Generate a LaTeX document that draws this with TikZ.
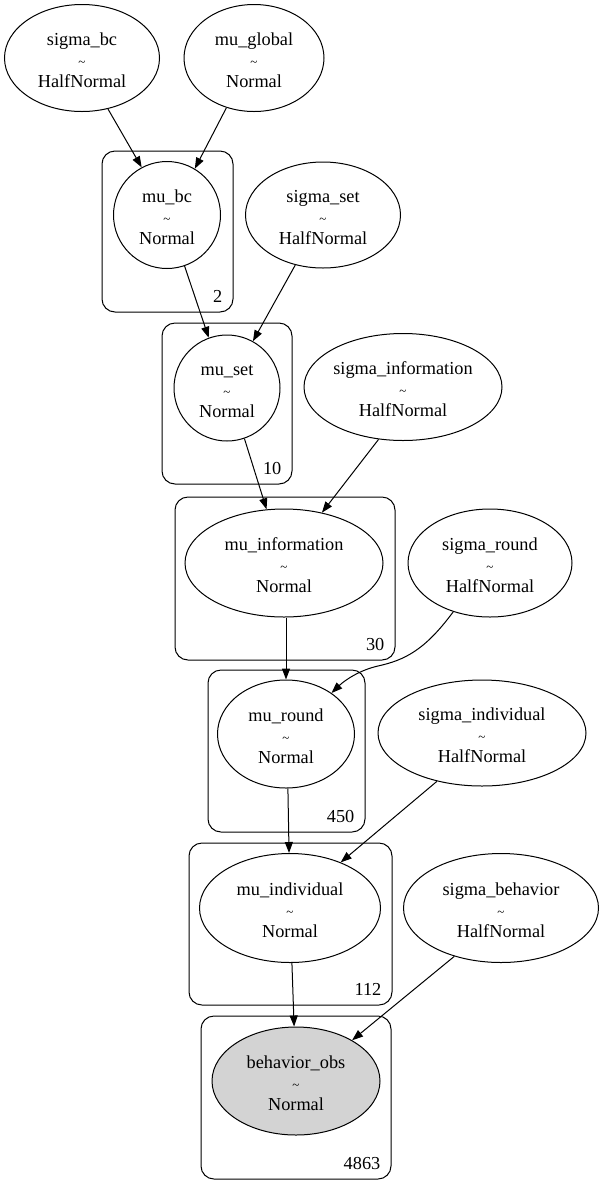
\documentclass[tikz,border=0pt]{standalone}
\usepackage{fontspec}
\setmainfont{Liberation Serif}
\usetikzlibrary{arrows.meta,shapes.geometric}

\definecolor{obsgray}{HTML}{D3D3D3}

\newcommand{\rvtext}[2]{\rule{0pt}{17pt}#1\\[0.8pt]{\fontsize{13}{20.5}\selectfont\textasciitilde}\\[0.8pt]#2}

\begin{document}
\begin{tikzpicture}[x=1pt, y=-1pt, >={Triangle[length=11pt,width=8pt]},
    rv/.style 2 args={draw, ellipse, line width=1pt, inner sep=0pt, align=center,
      minimum width=#1, minimum height=#2,
      font=\fontsize{18.3}{20.5}\selectfont},
    plate/.style 2 args={draw, line width=1pt, rounded corners=13pt, inner sep=0pt,
      minimum width=#1, minimum height=#2},
    platelab/.style={anchor=south east, inner sep=0pt, font=\fontsize{18.3}{20}\selectfont},
    edge/.style={->, line width=1pt}]

        \useasboundingbox (0,0) rectangle (604,1195);

        % Plates
        \node[plate={131pt}{161pt}] (p2) at (167.5,231.5) {};
        \node[plate={130pt}{161pt}] (p10) at (227,403.5) {};
        \node[plate={220pt}{163pt}] (p30) at (285,578.5) {};
        \node[plate={157pt}{162pt}] (p450) at (286.5,751) {};
        \node[plate={203pt}{162pt}] (p112) at (290.5,924) {};
        \node[plate={190pt}{163pt}] (p4863) at (296,1097.5) {};

        % Plate sizes
        \node[platelab] (n2) at ([shift={(-11,-10)}]p2.south east) {2};
        \node[platelab] (n10) at ([shift={(-11,-10)}]p10.south east) {10};
        \node[platelab] (n30) at ([shift={(-11,-10)}]p30.south east) {30};
        \node[platelab] (n450) at ([shift={(-11,-10)}]p450.south east) {450};
        \node[platelab] (n112) at ([shift={(-11,-10)}]p112.south east) {112};
        \node[platelab] (n4863) at ([shift={(-11,-10)}]p4863.south east) {4863};

        % Random variables
        \node[rv={155pt}{107pt}] (sbc) at (82,58) {\rvtext{sigma\_bc}{HalfNormal}};
        \node[rv={140pt}{107pt}] (mug) at (254,58) {\rvtext{mu\_global}{Normal}};
        \node[rv={107pt}{107pt}] (mubc) at (167,215) {\rvtext{mu\_bc}{Normal}};
        \node[rv={155pt}{106pt}] (sset) at (323,215) {\rvtext{sigma\_set}{HalfNormal}};
        \node[rv={106pt}{106pt}] (muset) at (227,388) {\rvtext{mu\_set}{Normal}};
        \node[rv={198pt}{107pt}] (sinfo) at (403,387) {\rvtext{sigma\_information}{HalfNormal}};
        \node[rv={198pt}{108pt}] (muinfo) at (284,563) {\rvtext{mu\_information}{Normal}};
        \node[rv={164pt}{108pt}] (sround) at (490,563) {\rvtext{sigma\_round}{HalfNormal}};
        \node[rv={137pt}{108pt}] (muround) at (286,734) {\rvtext{mu\_round}{Normal}};
        \node[rv={208pt}{106pt}] (sind) at (482,733) {\rvtext{sigma\_individual}{HalfNormal}};
        \node[rv={181pt}{109pt}] (muind) at (290,908) {\rvtext{mu\_individual}{Normal}};
        \node[rv={195pt}{109pt}] (sbeh) at (501,908) {\rvtext{sigma\_behavior}{HalfNormal}};
        \node[rv={168pt}{108pt}, fill=obsgray] (bobs) at (296,1081) {\rvtext{behavior\_obs}{Normal}};

        % Dependencies
        \draw[edge] (sbc.-63) -- (mubc.118);
        \draw[edge] (mug.-119) -- (mubc.59);
        \draw[edge] (mubc.-71) -- (muset.110);
        \draw[edge] (sset.-119) -- (muset.61);
        \draw[edge] (muset.-71) -- (muinfo.108);
        \draw[edge] (sinfo.-115) -- (muinfo.53);
        \draw[edge] ([xshift=2pt]muinfo.south) -- (muround.north);
        \draw[edge] (sround.-127) .. controls (425,650) and (405,660) .. (378,666)
            .. controls (360,670) and (345,680) .. (muround.42);
        \draw[edge] (muround.-88) -- (muind.91);
        \draw[edge] (sind.-133) -- (muind.42);
        \draw[edge] (muind.-88) -- (bobs.92);
        \draw[edge] (sbeh.-134) -- (bobs.36);

    \end{tikzpicture}
\end{document}
